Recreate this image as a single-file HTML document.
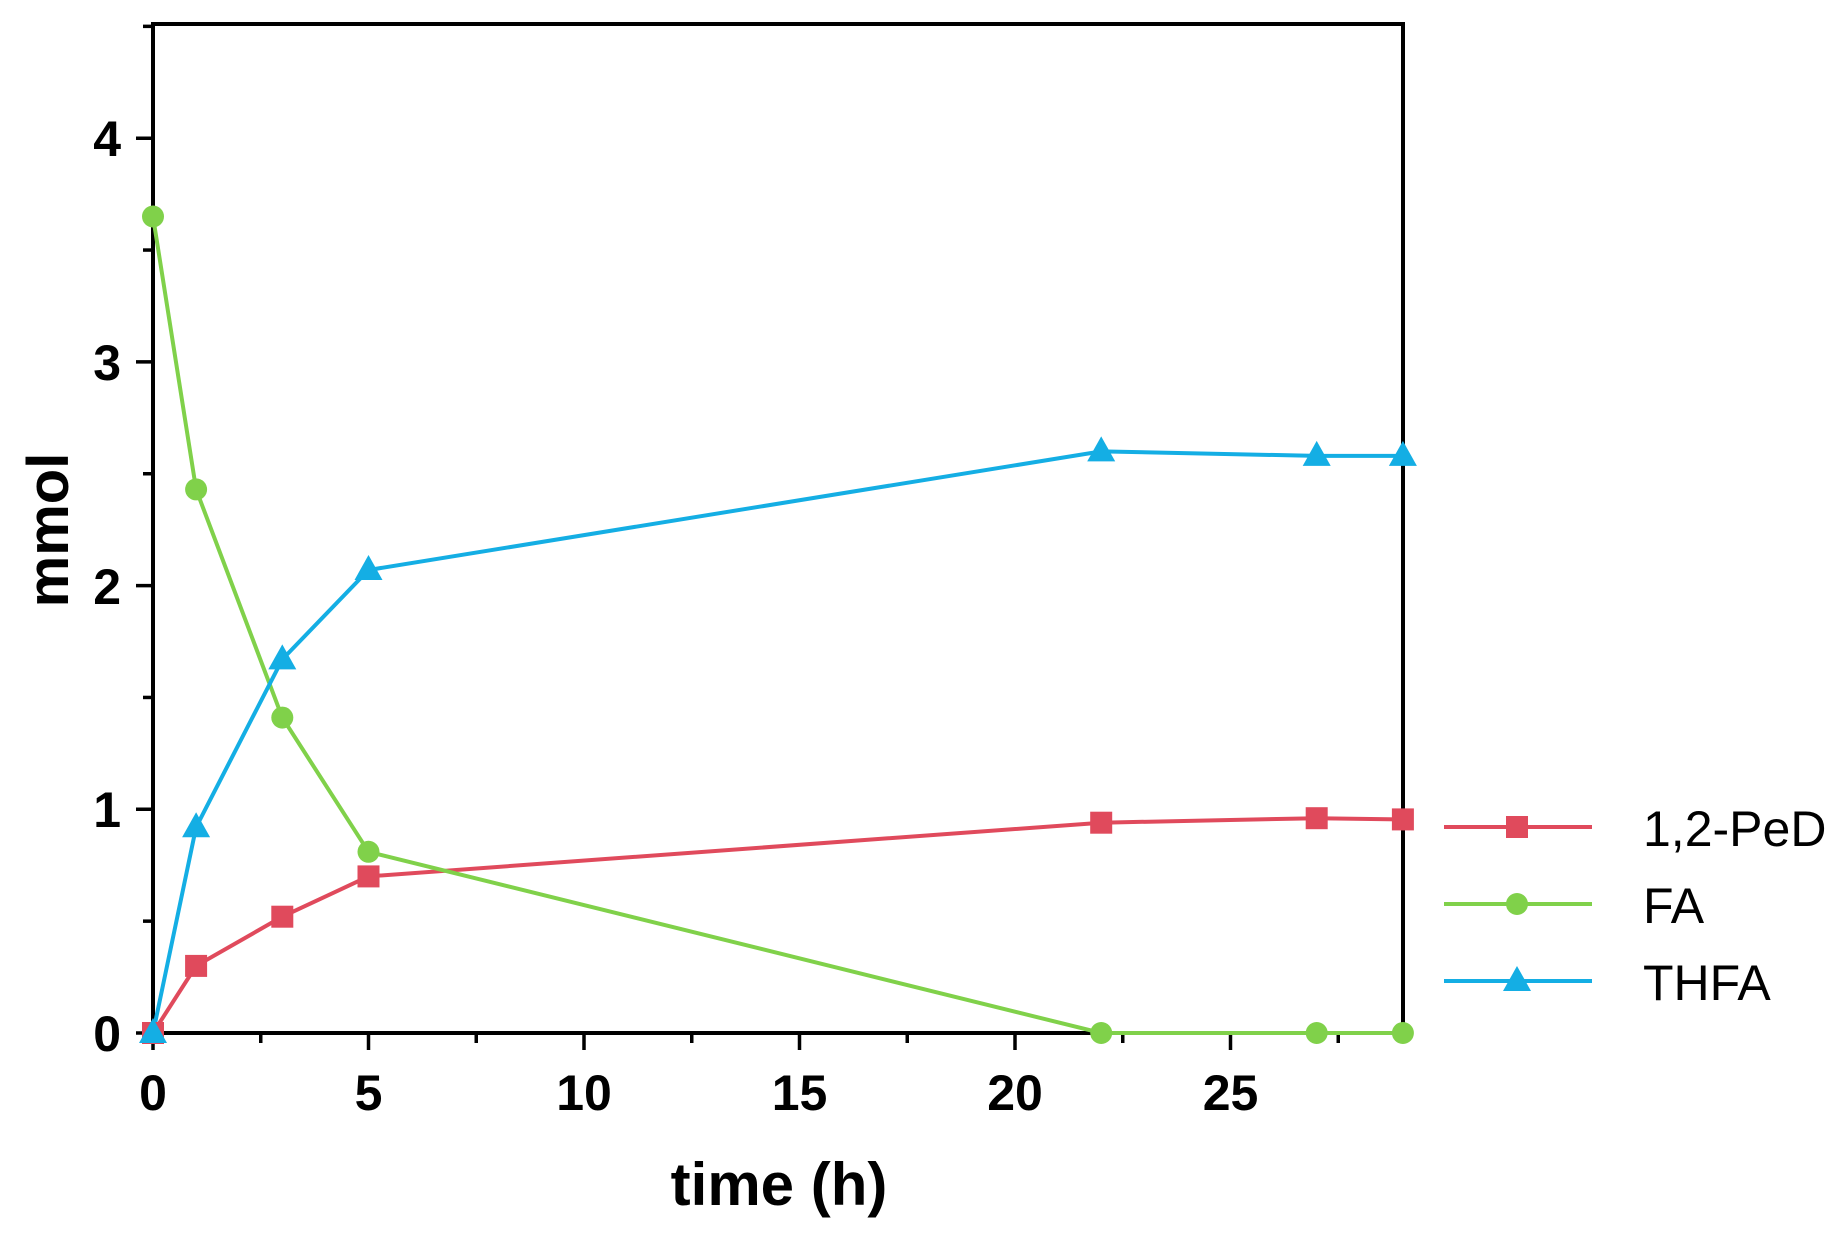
<!DOCTYPE html>
<html><head><meta charset="utf-8"><style>body{margin:0;background:#fff}svg{display:block}</style></head><body>
<svg width="1846" height="1234" viewBox="0 0 1846 1234" xmlns="http://www.w3.org/2000/svg" xmlns:xlink="http://www.w3.org/1999/xlink" font-family="Liberation Sans, Arial, sans-serif">
<defs>
<rect id="sq" x="-11" y="-11" width="22" height="22" fill="#e04a5c"/>
<circle id="ci" r="11" fill="#80d14a"/>
<polygon id="tr" points="0,-15 -14,10 14,10" fill="#14aee4"/>
</defs>
<rect x="153" y="24" width="1250" height="1009" fill="none" stroke="#000" stroke-width="4"/>
<g stroke="#000" stroke-width="3.5">
<line x1="153" y1="1033" x2="153" y2="1050"/><line x1="368.5" y1="1033" x2="368.5" y2="1050"/><line x1="584" y1="1033" x2="584" y2="1050"/><line x1="799.5" y1="1033" x2="799.5" y2="1050"/><line x1="1015" y1="1033" x2="1015" y2="1050"/><line x1="1230.5" y1="1033" x2="1230.5" y2="1050"/>
<line x1="260.75" y1="1033" x2="260.75" y2="1043"/><line x1="476.25" y1="1033" x2="476.25" y2="1043"/><line x1="691.75" y1="1033" x2="691.75" y2="1043"/><line x1="907.25" y1="1033" x2="907.25" y2="1043"/><line x1="1122.75" y1="1033" x2="1122.75" y2="1043"/><line x1="1338.25" y1="1033" x2="1338.25" y2="1043"/>
<line x1="153" y1="1033" x2="136" y2="1033"/><line x1="153" y1="809.3" x2="136" y2="809.3"/><line x1="153" y1="585.6" x2="136" y2="585.6"/><line x1="153" y1="361.9" x2="136" y2="361.9"/><line x1="153" y1="138.2" x2="136" y2="138.2"/>
<line x1="153" y1="921.15" x2="143" y2="921.15"/><line x1="153" y1="697.45" x2="143" y2="697.45"/><line x1="153" y1="473.75" x2="143" y2="473.75"/><line x1="153" y1="250.05" x2="143" y2="250.05"/><line x1="153" y1="26.35" x2="143" y2="26.35"/>
</g>
<g font-size="50" font-weight="bold" text-anchor="middle">
<text x="153" y="1110">0</text><text x="368.5" y="1110">5</text><text x="584" y="1110">10</text><text x="799.5" y="1110">15</text><text x="1015" y="1110">20</text><text x="1230.5" y="1110">25</text>
</g>
<g font-size="50" font-weight="bold" text-anchor="end">
<text x="121" y="1051">0</text><text x="121" y="827">1</text><text x="121" y="604">2</text><text x="121" y="380">3</text><text x="121" y="156">4</text>
</g>
<text x="779" y="1205" font-size="60" font-weight="bold" text-anchor="middle">time (h)</text>
<text transform="translate(68,530) rotate(-90)" font-size="58" font-weight="bold" text-anchor="middle">mmol</text>
<g fill="none" stroke-width="4">
<polyline stroke="#e04a5c" points="153,1033 196.1,965.9 282.3,916.7 368.5,876.4 1101.2,822.7 1316.7,818.2 1402.9,819.4"/>
<polyline stroke="#80d14a" points="153,216.5 196.1,489.4 282.3,717.6 368.5,851.8 1101.2,1033 1316.7,1033 1402.9,1033"/>
<polyline stroke="#14aee4" points="153,1033 196.1,827.2 282.3,659.4 368.5,570 1101.2,451.4 1316.7,455.9 1402.9,455.9"/>
</g>
<use xlink:href="#sq" x="153" y="1033"/><use xlink:href="#sq" x="196.1" y="965.9"/><use xlink:href="#sq" x="282.3" y="916.7"/><use xlink:href="#sq" x="368.5" y="876.4"/><use xlink:href="#sq" x="1101.2" y="822.7"/><use xlink:href="#sq" x="1316.7" y="818.2"/><use xlink:href="#sq" x="1402.9" y="819.4"/>
<use xlink:href="#ci" x="153" y="216.5"/><use xlink:href="#ci" x="196.1" y="489.4"/><use xlink:href="#ci" x="282.3" y="717.6"/><use xlink:href="#ci" x="368.5" y="851.8"/><use xlink:href="#ci" x="1101.2" y="1033"/><use xlink:href="#ci" x="1316.7" y="1033"/><use xlink:href="#ci" x="1402.9" y="1033"/>
<use xlink:href="#tr" x="153" y="1033"/><use xlink:href="#tr" x="196.1" y="827.2"/><use xlink:href="#tr" x="282.3" y="659.4"/><use xlink:href="#tr" x="368.5" y="570"/><use xlink:href="#tr" x="1101.2" y="451.4"/><use xlink:href="#tr" x="1316.7" y="455.9"/><use xlink:href="#tr" x="1402.9" y="455.9"/>
<line x1="1444" y1="827" x2="1592" y2="827" stroke="#e04a5c" stroke-width="4"/><use xlink:href="#sq" x="1517" y="827"/>
<line x1="1444" y1="904" x2="1592" y2="904" stroke="#80d14a" stroke-width="4"/><use xlink:href="#ci" x="1517" y="904"/>
<line x1="1444" y1="981" x2="1592" y2="981" stroke="#14aee4" stroke-width="4"/><use xlink:href="#tr" x="1517" y="981"/>
<g font-size="50">
<text x="1643" y="846">1,2-PeD</text><text x="1643" y="923">FA</text><text x="1643" y="1000">THFA</text>
</g>
</svg>
</body></html>
